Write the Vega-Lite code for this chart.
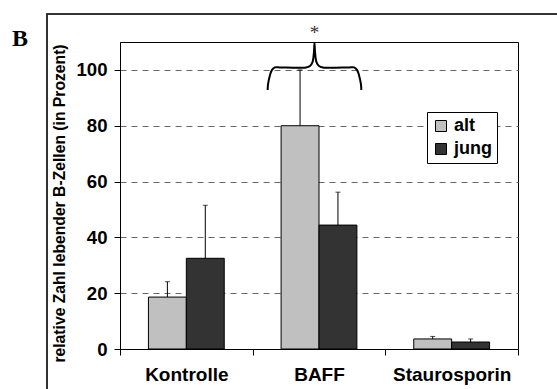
{
  "$schema": "https://vega.github.io/schema/vega-lite/v6.json",
  "width": 398,
  "height": 307,
  "autosize": {"type": "none"},
  "padding": {"left": 120, "top": 42, "right": 39, "bottom": 40},
  "background": "white",
  "datasets": {
    "bars": [
      {"cat": "Kontrolle", "group": "alt", "value": 18.6, "err": 24.1},
      {"cat": "Kontrolle", "group": "jung", "value": 32.5, "err": 51.5},
      {"cat": "BAFF", "group": "alt", "value": 80.0, "err": 100.0},
      {"cat": "BAFF", "group": "jung", "value": 44.4, "err": 56.2},
      {"cat": "Staurosporin", "group": "alt", "value": 3.6, "err": 4.5},
      {"cat": "Staurosporin", "group": "jung", "value": 2.5, "err": 3.6}
    ],
    "brace": [
      {"i": 1, "x": 1.113, "y": 92.8},
      {"i": 2, "x": 1.116, "y": 94.9},
      {"i": 3, "x": 1.131, "y": 98.2},
      {"i": 4, "x": 1.146, "y": 100.0},
      {"i": 5, "x": 1.168, "y": 100.9},
      {"i": 6, "x": 1.206, "y": 100.9},
      {"i": 7, "x": 1.402, "y": 100.9},
      {"i": 8, "x": 1.432, "y": 101.4},
      {"i": 9, "x": 1.451, "y": 102.8},
      {"i": 10, "x": 1.462, "y": 106.4},
      {"i": 11, "x": 1.466, "y": 109.6},
      {"i": 12, "x": 1.470, "y": 106.4},
      {"i": 13, "x": 1.481, "y": 102.8},
      {"i": 14, "x": 1.500, "y": 101.4},
      {"i": 15, "x": 1.530, "y": 100.9},
      {"i": 16, "x": 1.726, "y": 100.9},
      {"i": 17, "x": 1.764, "y": 100.9},
      {"i": 18, "x": 1.786, "y": 100.0},
      {"i": 19, "x": 1.801, "y": 98.2},
      {"i": 20, "x": 1.816, "y": 94.9},
      {"i": 21, "x": 1.819, "y": 92.8}
    ]
  },
  "config": {
    "view": {"stroke": "black", "strokeWidth": 1},
    "font": "Liberation Sans",
    "axis": {
      "labelFont": "Liberation Sans",
      "labelFontWeight": "bold",
      "labelColor": "black",
      "titleFont": "Liberation Sans",
      "titleFontWeight": "bold",
      "titleColor": "black",
      "domainColor": "black",
      "tickColor": "black"
    },
    "legend": {
      "orient": "none",
      "legendX": 307,
      "legendY": 70,
      "strokeColor": "black",
      "fillColor": "white",
      "padding": 5,
      "symbolType": "square",
      "symbolSize": 121,
      "symbolStrokeColor": "black",
      "symbolStrokeWidth": 1,
      "labelFont": "Liberation Sans",
      "labelFontSize": 18,
      "labelFontWeight": "bold",
      "labelColor": "black",
      "labelOffset": 4,
      "rowPadding": 5
    }
  },
  "resolve": {"scale": {"x": "independent"}},
  "layer": [
    {
      "data": {"name": "bars"},
      "encoding": {
        "x": {
          "field": "cat",
          "type": "nominal",
          "sort": ["Kontrolle", "BAFF", "Staurosporin"],
          "scale": {"paddingInner": 0, "paddingOuter": 0},
          "axis": {
            "title": null,
            "labelAngle": 0,
            "labelFontSize": 19,
            "labelPadding": 10,
            "tickBand": "extent",
            "tickSize": 6,
            "grid": false
          }
        },
        "xOffset": {
          "field": "group",
          "type": "nominal",
          "sort": ["alt", "jung"],
          "scale": {"paddingInner": 0, "paddingOuter": 0.75}
        }
      },
      "layer": [
        {
          "mark": {"type": "bar", "stroke": "black", "strokeWidth": 1},
          "encoding": {
            "y": {
              "field": "value",
              "type": "quantitative",
              "scale": {"domain": [0, 110], "nice": false},
              "axis": {
                "title": "relative Zahl lebender B-Zellen (in Prozent)",
                "titleFontSize": 15.7,
                "titlePadding": 8,
                "titleY": 161,
                "values": [0, 20, 40, 60, 80, 100],
                "labelFontSize": 18.6,
                "labelPadding": 7,
                "tickSize": 6,
                "grid": true,
                "gridDash": [6, 5],
                "gridColor": "#666666",
                "gridWidth": 1
              }
            },
            "fill": {
              "field": "group",
              "type": "nominal",
              "scale": {"domain": ["alt", "jung"], "range": ["#c0c0c0", "#333333"]},
              "legend": {"title": null}
            }
          }
        },
        {
          "mark": {"type": "rule", "color": "black", "strokeWidth": 1},
          "encoding": {
            "y": {"field": "value", "type": "quantitative", "scale": {"domain": [0, 110], "nice": false}, "title": "relative Zahl lebender B-Zellen (in Prozent)"},
            "y2": {"field": "err"}
          }
        },
        {
          "mark": {"type": "tick", "color": "black", "thickness": 1, "size": 5, "orient": "horizontal"},
          "encoding": {
            "y": {"field": "err", "type": "quantitative", "scale": {"domain": [0, 110], "nice": false}, "title": "relative Zahl lebender B-Zellen (in Prozent)"}
          }
        }
      ]
    },
    {
      "layer": [
        {
          "data": {"values": [{}]},
          "mark": {"type": "rect", "filled": false, "stroke": "#333333", "strokeWidth": 2},
          "encoding": {
            "x": {"datum": -0.5503, "type": "quantitative", "scale": {"domain": [0, 3], "nice": false, "zero": false}, "axis": null},
            "x2": {"datum": 3.6},
            "y": {"datum": 120, "type": "quantitative", "scale": {"domain": [0, 110], "nice": false}, "title": "relative Zahl lebender B-Zellen (in Prozent)"},
            "y2": {"datum": -20}
          }
        },
        {
          "data": {"name": "brace"},
          "mark": {"type": "line", "color": "black", "strokeWidth": 2, "interpolate": "catmull-rom"},
          "encoding": {
            "x": {"field": "x", "type": "quantitative", "scale": {"domain": [0, 3], "nice": false, "zero": false}, "axis": null},
            "y": {"field": "y", "type": "quantitative", "scale": {"domain": [0, 110], "nice": false}, "title": "relative Zahl lebender B-Zellen (in Prozent)"},
            "order": {"field": "i", "type": "quantitative"}
          }
        },
        {
          "data": {"values": [{}]},
          "mark": {"type": "text", "text": "*", "font": "Liberation Serif", "fontSize": 19, "align": "center", "baseline": "alphabetic", "color": "#333333"},
          "encoding": {
            "x": {"datum": 1.466, "type": "quantitative", "scale": {"domain": [0, 3], "nice": false, "zero": false}, "axis": null},
            "y": {"datum": 111.1, "type": "quantitative", "scale": {"domain": [0, 110], "nice": false}, "title": "relative Zahl lebender B-Zellen (in Prozent)"}
          }
        },
        {
          "data": {"values": [{}]},
          "mark": {"type": "text", "text": "B", "font": "Liberation Serif", "fontSize": 24, "fontWeight": "bold", "align": "left", "baseline": "alphabetic", "color": "black"},
          "encoding": {
            "x": {"datum": -0.814, "type": "quantitative", "scale": {"domain": [0, 3], "nice": false, "zero": false}, "axis": null},
            "y": {"datum": 108.7, "type": "quantitative", "scale": {"domain": [0, 110], "nice": false}, "title": "relative Zahl lebender B-Zellen (in Prozent)"}
          }
        }
      ]
    }
  ]
}
